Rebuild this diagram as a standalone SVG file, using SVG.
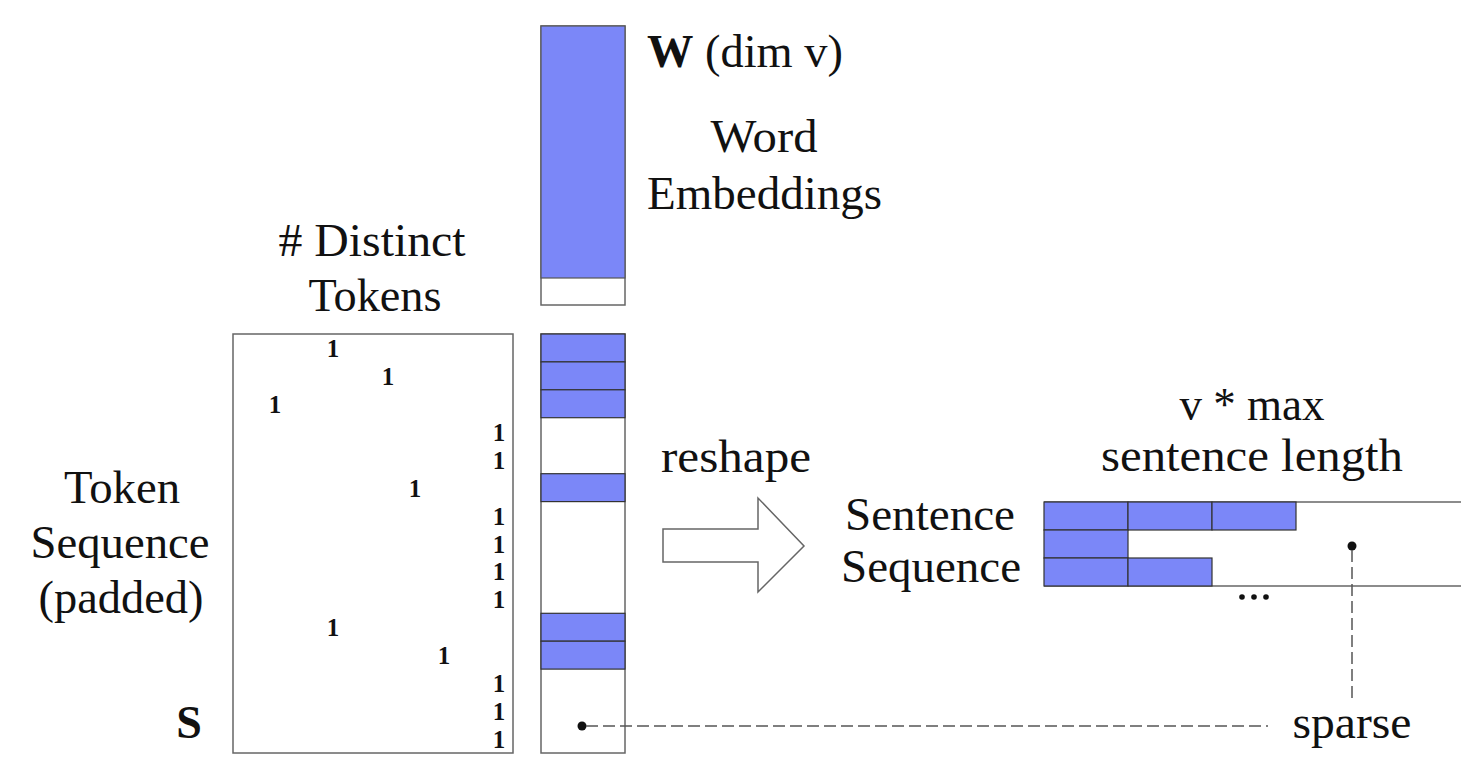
<svg xmlns="http://www.w3.org/2000/svg" width="1461" height="757" viewBox="0 0 1461 757">
<style>
.lbl{font-family:"Liberation Serif","Times New Roman",serif;font-size:46px;fill:#111}
.one{font-family:"Liberation Serif","Times New Roman",serif;font-size:25px;font-weight:bold;fill:#111;text-anchor:middle}
.frame{fill:#fff;stroke:#666;stroke-width:1.5}
.cell{fill:#7b87f8;stroke:#333;stroke-width:1.2}
.dash{fill:none;stroke:#555;stroke-width:1.5;stroke-dasharray:12,5}
</style>
<rect width="1461" height="757" fill="#fff"/>

<g id="embeddings">
<rect class="frame" x="541" y="26" width="84" height="279"/>
<rect x="541" y="26" width="84" height="252" fill="#7b87f8" stroke="#555" stroke-width="1.2"/>
<text class="lbl" x="647" y="67" textLength="196" lengthAdjust="spacingAndGlyphs"><tspan font-weight="bold">W</tspan> (dim v)</text>
<text class="lbl" x="764" y="152" text-anchor="middle" textLength="107" lengthAdjust="spacingAndGlyphs">Word</text>
<text class="lbl" x="647" y="209" textLength="235" lengthAdjust="spacingAndGlyphs">Embeddings</text>
</g>

<g id="token-matrix">
<text class="lbl" x="372" y="256" text-anchor="middle" textLength="187" lengthAdjust="spacingAndGlyphs"># Distinct</text>
<text class="lbl" x="375" y="311" text-anchor="middle" textLength="133" lengthAdjust="spacingAndGlyphs">Tokens</text>
<rect class="frame" x="233" y="334" width="280" height="419"/>
<text class="one" x="333" y="357">1</text>
<text class="one" x="388" y="385">1</text>
<text class="one" x="275" y="413">1</text>
<text class="one" x="499" y="441">1</text>
<text class="one" x="499" y="469">1</text>
<text class="one" x="415" y="497">1</text>
<text class="one" x="499" y="525">1</text>
<text class="one" x="499" y="553">1</text>
<text class="one" x="499" y="580">1</text>
<text class="one" x="499" y="608">1</text>
<text class="one" x="333" y="636">1</text>
<text class="one" x="444" y="664">1</text>
<text class="one" x="499" y="692">1</text>
<text class="one" x="499" y="720">1</text>
<text class="one" x="499" y="748">1</text>
</g>

<g id="token-labels">
<text class="lbl" x="122" y="503" text-anchor="middle" textLength="116" lengthAdjust="spacingAndGlyphs">Token</text>
<text class="lbl" x="120" y="558" text-anchor="middle" textLength="179" lengthAdjust="spacingAndGlyphs">Sequence</text>
<text class="lbl" x="121" y="613" text-anchor="middle" textLength="165" lengthAdjust="spacingAndGlyphs">(padded)</text>
<text class="lbl" x="189" y="738" text-anchor="middle" font-weight="bold">S</text>
</g>

<g id="lookup-column">
<rect class="frame" x="541" y="334" width="84" height="419"/>
<rect class="cell" x="541" y="334" width="84" height="27.9"/>
<rect class="cell" x="541" y="361.9" width="84" height="27.9"/>
<rect class="cell" x="541" y="389.8" width="84" height="27.9"/>
<rect class="cell" x="541" y="473.7" width="84" height="27.9"/>
<rect class="cell" x="541" y="613.3" width="84" height="27.9"/>
<rect class="cell" x="541" y="641.2" width="84" height="27.9"/>
<circle cx="582" cy="726" r="4.5" fill="#111"/>
</g>

<g id="reshape">
<polygon points="663,529 758,529 758,498 804,546 758,592 758,562 663,562" fill="#fff" stroke="#666" stroke-width="1.5"/>
<text class="lbl" x="736" y="472" text-anchor="middle" textLength="150" lengthAdjust="spacingAndGlyphs">reshape</text>
</g>

<g id="sentence-matrix">
<text class="lbl" x="1252" y="420" text-anchor="middle" textLength="145" lengthAdjust="spacingAndGlyphs">v * max</text>
<text class="lbl" x="1252" y="471" text-anchor="middle" textLength="302" lengthAdjust="spacingAndGlyphs">sentence length</text>
<text class="lbl" x="930" y="530" text-anchor="middle" textLength="170" lengthAdjust="spacingAndGlyphs">Sentence</text>
<text class="lbl" x="931" y="582" text-anchor="middle" textLength="180" lengthAdjust="spacingAndGlyphs">Sequence</text>
<line x1="1044" y1="502" x2="1461" y2="502" stroke="#666" stroke-width="1.5"/>
<line x1="1044" y1="586" x2="1461" y2="586" stroke="#666" stroke-width="1.5"/>
<rect class="cell" x="1044" y="502" width="84" height="28"/>
<rect class="cell" x="1128" y="502" width="84" height="28"/>
<rect class="cell" x="1212" y="502" width="84" height="28"/>
<rect class="cell" x="1044" y="530" width="84" height="28"/>
<rect class="cell" x="1044" y="558" width="84" height="28"/>
<rect class="cell" x="1128" y="558" width="84" height="28"/>
<circle cx="1242" cy="597" r="2.8" fill="#111"/>
<circle cx="1254" cy="597" r="2.8" fill="#111"/>
<circle cx="1266" cy="597" r="2.8" fill="#111"/>
<circle cx="1352" cy="546" r="4.5" fill="#111"/>
<text class="lbl" x="1352" y="738" text-anchor="middle" textLength="119" lengthAdjust="spacingAndGlyphs">sparse</text>
</g>

<g id="connectors">
<line class="dash" x1="586" y1="726" x2="1268" y2="726"/>
<line class="dash" x1="1352" y1="550" x2="1352" y2="698"/>
</g>
</svg>
